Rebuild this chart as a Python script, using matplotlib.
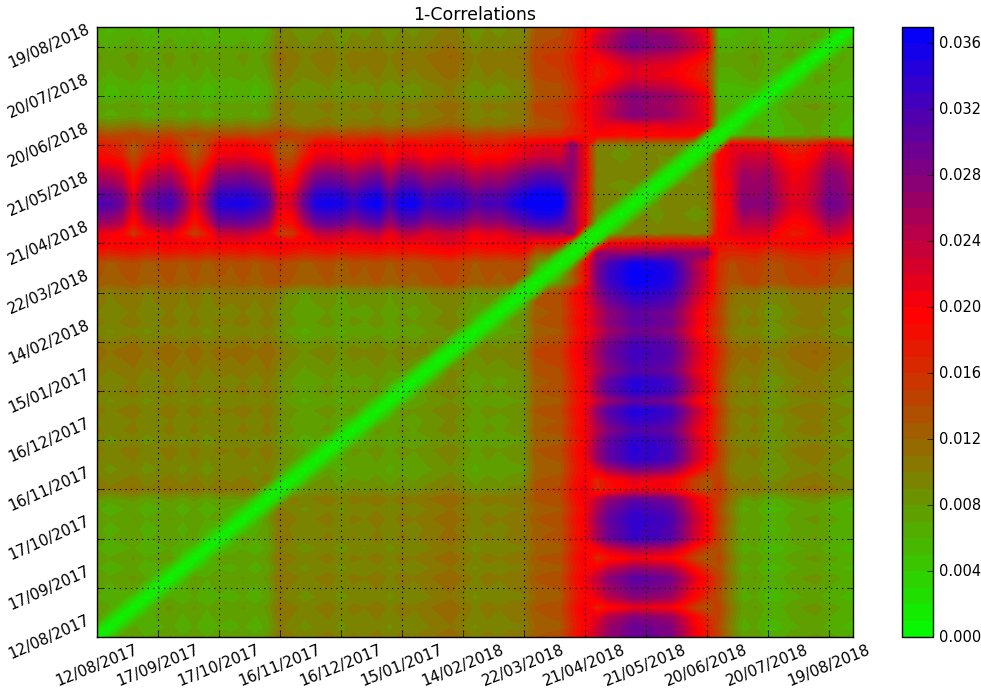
import numpy as np
import matplotlib
matplotlib.use("Agg")
import matplotlib.pyplot as plt
from matplotlib.colors import LinearSegmentedColormap

plt.style.use("classic")
plt.rcParams["font.family"] = ["DejaVu Sans"]
plt.rcParams["font.size"] = 11

# ---------------- data ----------------
n_points = 63
tick_positions = list(range(0, 61, 5))
tick_labels = ["12/08/2017", "17/09/2017", "17/10/2017", "16/11/2017",
               "16/12/2017", "15/01/2017", "14/02/2018", "22/03/2018",
               "21/04/2018", "21/05/2018", "20/06/2018", "20/07/2018",
               "19/08/2018"]

# groups of consecutive dates (first index of each group)
group_names = ["early", "mid", "pre", "onset1", "onset2", "event",
               "post1", "post2", "late"]
group_starts = [0, 15, 36, 39, 40, 41, 51, 52, 53]

# typical 1-correlation between groups (units of 0.001)
block = [
    # early mid   pre   on1   on2   event post1 post2 late
    [7.0,  9.5, 12.5, 17.0, 20.0, 33.5, 14.0, 10.0,  6.5],   # early
    [9.5,  7.5, 12.5, 17.0, 20.0, 34.5, 14.5, 10.5,  9.0],   # mid
    [12.5, 12.5, 8.0, 12.0, 18.0, 36.0, 15.5, 13.0, 13.5],   # pre
    [17.0, 17.0, 12.0, 0.0,  8.0, 27.0, 17.0, 16.5, 16.0],   # onset1
    [20.0, 20.0, 18.0, 8.0,  0.0, 20.0, 18.5, 18.0, 19.0],   # onset2
    [33.5, 34.5, 36.0, 27.0, 20.0, 9.0, 19.0, 21.0, 24.0],   # event
    [14.0, 14.5, 15.5, 17.0, 18.5, 19.0, 0.0,  4.0,  6.0],   # post1
    [10.0, 10.5, 13.0, 16.5, 18.0, 21.0, 4.0,  0.0,  6.0],   # post2
    [6.5,  9.0, 13.5, 16.0, 19.0, 24.0,  6.0,  6.0,  6.0],   # late
]

# strength of each event date (indices 41..50) against early dates:
# along the rows (horizontal band) and along the columns (vertical band)
event_rows_vs_early = [0.66, 0.84, 0.95, 1.03, 0.97, 0.88, 0.78, 0.68, 0.60, 0.56]
event_cols_vs_early = [0.74, 0.87, 0.93, 0.98, 0.95, 0.95, 0.90, 0.80, 0.68, 0.57]
event_vs_late = [0.80, 0.90, 1.00, 1.05, 1.00, 1.00, 0.95, 0.90, 0.85, 0.75]

# contrast of each date against the event dates
contrast = [0.90, 0.92, 0.85, 0.62, 0.85, 0.90, 0.92, 0.82, 0.60, 0.80,
            1.00, 1.02, 1.02, 1.00, 0.90, 0.58, 0.62, 0.85, 1.00, 1.00,
            1.02, 0.92, 1.00, 1.02, 0.90, 1.00, 1.02, 0.90, 0.92, 0.92,
            0.92, 0.88, 0.90, 0.90, 0.95, 1.00, 1.04, 1.04, 1.00, 1.00,
            1.00, 1.00, 1.00, 1.00, 1.00, 1.00, 1.00, 1.00, 1.00, 1.00,
            1.00, 1.00, 1.00, 1.10, 1.05, 1.15, 1.00, 0.85, 0.85, 0.95,
            1.15, 1.15, 1.05]

# per-date offset (units of 0.001)
offset = [0.5, -0.4, 0.1, 0.6, -0.5, 0.0, 0.6, -0.4, 0.5, -0.6, 0.3, -0.1, 0.5, -0.3, 0.7,
          1.1, 0.3, -0.5, 0.0, 0.5, -0.6, 0.3, -0.1, 0.6, -0.4, 0.5, 0.0, 0.7, 1.2, 1.8,
          0.8, -0.4, 0.5, 0.0, 0.6, 0.8,
          0.0, 0.4, 0.6,
          0.0, 0.0,
          0.4, 0.0, -0.4, 0.0, 0.4, -0.1, 0.7, 0.4, 0.0, 0.3,
          0.0, 0.0,
          0.4, 1.0, -0.6, -0.4, 0.6, 1.0, 1.3, 0.4, -0.1, -0.5]

# values on / next to the diagonal (units of 0.001)
diagonal_values = [0.0, 3.5]

# ---------------- build matrix ----------------
idx = np.arange(n_points)
groups = np.searchsorted(group_starts, idx, side="right") - 1
blk = np.array(block)
M = blk[groups][:, groups].copy()
event_g = group_names.index("event")
ev_first = group_starts[event_g]
early_groups = {0, 1, 2}
late_groups = {group_names.index("late")}
for i in range(n_points):          # row (y)
    for j in range(n_points):      # column (x)
        ei = groups[i] == event_g
        ej = groups[j] == event_g
        if ei != ej:
            ev, other = (i, j) if ei else (j, i)
            g = groups[other]
            if g in early_groups:
                prof = event_rows_vs_early if ei else event_cols_vs_early
                M[i, j] *= prof[ev - ev_first] * contrast[other]
            elif g in late_groups:
                M[i, j] *= event_vs_late[ev - ev_first] * contrast[other]
off = np.array(offset)
M = M + off[:, None] + off[None, :]
for k, v in enumerate(diagonal_values):
    for i in range(n_points - k):
        M[i, i + k] = v
        M[i + k, i] = v
M = np.clip(M, 0.0, 36.9) * 0.001

# ---------------- plot ----------------
cmap = LinearSegmentedColormap.from_list(
    "gbr", [(0.0, (0, 1, 0)), (0.53, (1, 0, 0)), (1.0, (0, 0, 1))])
levels = np.arange(0, 0.0375, 0.001)

fig = plt.figure(figsize=(9.81, 6.94), dpi=100, facecolor="white")
ax = fig.add_axes([0.0989, 0.0821, 0.7706, 0.879])
cs = ax.contourf(idx, idx, M, levels=levels, cmap=cmap)
ax.set_xlim(0, n_points - 1)
ax.set_ylim(0, n_points - 1)
ax.set_xticks(tick_positions)
ax.set_yticks(tick_positions)
ax.set_xticklabels(tick_labels, rotation=22)
ax.set_yticklabels(tick_labels, rotation=24)
ax.grid(True, color="k", linestyle=":", linewidth=0.8)
ax.set_title("1-Correlations", fontsize=12.5)

cax = fig.add_axes([0.9195, 0.0821, 0.0316, 0.879])
cb = fig.colorbar(cs, cax=cax)
cb.set_ticks(np.arange(0, 0.037, 0.004))
cb.ax.set_yticklabels(["%.3f" % t for t in np.arange(0, 0.037, 0.004)],
                      fontsize=10.5)

fig.savefig("out.png", dpi=100, facecolor="white")
